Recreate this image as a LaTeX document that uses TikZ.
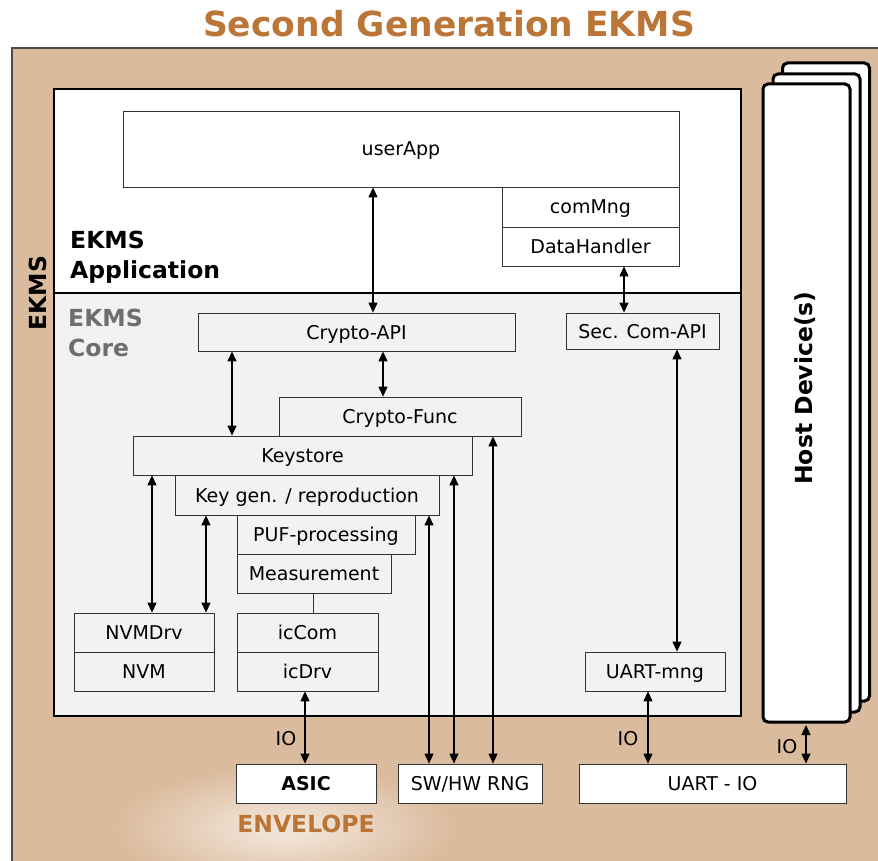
\documentclass[tikz,border=0pt]{standalone}
\usepackage{fontspec}
\setmainfont{DejaVu Sans}
\usetikzlibrary{arrows.meta}
\definecolor{tanc}{RGB}{219,187,157}
\definecolor{glowc}{RGB}{240,226,212}
\definecolor{copper}{RGB}{187,117,54}
\definecolor{corebg}{RGB}{242,242,240}
\definecolor{coregray}{RGB}{110,110,110}
\pgfdeclareradialshading{glow}{\pgfpoint{0bp}{0bp}}{color(0bp)=(glowc); color(4bp)=(glowc); color(25bp)=(tanc); color(50bp)=(tanc)}
\begin{document}
\begin{tikzpicture}[x=1pt,y=-1pt,
  box/.style={draw=black!80, line width=0.8pt, inner sep=0pt, text height=14pt, text depth=0pt, font=\fontsize{19}{21}\selectfont},
  cbox/.style={box, fill=corebg},
  wbox/.style={box, fill=white},
  dar/.style={{Triangle[length=10pt,width=9pt]}-{Triangle[length=10pt,width=9pt]}, line width=1.1pt},
  hostbox/.style={draw=black, line width=3pt, rounded corners=5pt, fill=white, minimum width=87pt, inner sep=0pt},
  lbl/.style={font=\fontsize{19}{21}\selectfont, inner sep=0pt, text height=14pt, text depth=0pt},
  big/.style={font=\fontsize{23.5}{30}\selectfont\bfseries, inner sep=0pt, align=left}
]
\useasboundingbox (0,0) rectangle (878,861);
\fill[white] (0,0) rectangle (878,861);
\begin{scope}
\clip (0,0) rectangle (878,861);
% outer envelope
\fill[tanc] (12,48) rectangle (900,900);
\shade[shading=glow] (285,828) ellipse (170 and 62);
\draw[draw=black!70, line width=2pt] (900,48) -- (12,48) -- (12,900);
\end{scope}

% title
\node[font=\fontsize{34.5}{40}\selectfont\bfseries, text=copper, inner sep=0pt] (title) at (449,24) {Second Generation EKMS};

% EKMS vertical label
\node[big, rotate=90] (ekms) at (38,293) {EKMS};

% application and core areas
\node[draw=black, line width=1.2pt, fill=white, minimum width=687pt, minimum height=204pt, inner sep=0pt] (app) at (397.5,191) {};
\node[draw=black, line width=1.2pt, fill=corebg, minimum width=687pt, minimum height=423pt, inner sep=0pt] (core) at (397.5,504.5) {};

\node[big, anchor=north west] (apptxt) at (70,231) {EKMS\\Application};
\node[big, anchor=north west, text=coregray] (coretxt) at (68,309) {EKMS\\Core};

% application boxes
\node[wbox, minimum width=556pt, minimum height=76pt] (userApp) at (401,149) {userApp};
\node[wbox, minimum width=177pt, minimum height=40pt] (comMng) at (590.5,207) {comMng};
\node[wbox, minimum width=177pt, minimum height=39pt] (dataH) at (590.5,246.5) {DataHandler};

% core boxes
\node[cbox, minimum width=317pt, minimum height=38pt] (cryptoAPI) at (356.5,332) {Crypto-API};
\node[cbox, minimum width=153pt, minimum height=36pt] (secAPI) at (642.5,331) {Sec. Com-API};
\node[cbox, minimum width=242pt, minimum height=39pt] (cryptoFunc) at (400,416.5) {Crypto-Func};
\node[cbox, minimum width=339pt, minimum height=39pt] (keystore) at (302.5,455.5) {Keystore};
\node[cbox, minimum width=264pt, minimum height=40pt] (keygen) at (307,495) {Key gen. / reproduction};
\node[cbox, minimum width=178pt, minimum height=39pt] (puf) at (326,534.5) {PUF-processing};
\node[cbox, minimum width=154pt, minimum height=39pt] (meas) at (314,573.5) {Measurement};
\node[cbox, minimum width=140pt, minimum height=39pt] (nvmdrv) at (144,632.5) {NVMDrv};
\node[cbox, minimum width=140pt, minimum height=39pt] (nvm) at (144,671.5) {NVM};
\node[cbox, minimum width=141pt, minimum height=39pt] (iccom) at (307.5,632.5) {icCom};
\node[cbox, minimum width=141pt, minimum height=39pt] (icdrv) at (307.5,671.5) {icDrv};
\node[cbox, minimum width=140pt, minimum height=39pt] (uartmng) at (655,671.5) {UART-mng};

% outside boxes
\node[wbox, minimum width=140pt, minimum height=39pt, font=\fontsize{19}{21}\selectfont\bfseries] (asic) at (306,783.5) {ASIC};
\node[wbox, minimum width=144pt, minimum height=39pt] (rng) at (470,783.5) {SW/HW RNG};
\node[wbox, minimum width=267pt, minimum height=39pt] (uartio) at (712.5,783.5) {UART - IO};
\node[font=\fontsize{23.5}{28}\selectfont\bfseries, text=copper, inner sep=0pt] (envelope) at (306,824) {ENVELOPE};

% host devices
\node[hostbox, minimum height=638pt] (host3) at (826,382) {};
\node[hostbox, minimum height=638pt] (host2) at (816.5,393) {};
\node[hostbox, minimum height=638pt] (host) at (806.5,403) {};
\node[big, rotate=90] (hosttxt) at (805,388) {Host Device(s)};

% connectors
\draw[line width=0.9pt, black!80] (meas.south) ++(-1,0) coordinate (mb) -- (mb |- iccom.north);
\draw[dar] (373,0 |- userApp.south) -- (373,0 |- cryptoAPI.north);
\draw[dar] (624,0 |- dataH.south) -- (624,0 |- secAPI.north);
\draw[dar] (232,0 |- cryptoAPI.south) -- (232,0 |- keystore.north);
\draw[dar] (383,0 |- cryptoAPI.south) -- (383,0 |- cryptoFunc.north);
\draw[dar] (677,0 |- secAPI.south) -- (677,0 |- uartmng.north);
\draw[dar] (152,0 |- keystore.south) -- (152,0 |- nvmdrv.north);
\draw[dar] (206,0 |- keygen.south) -- (206,0 |- nvmdrv.north);
\draw[dar] (429,0 |- keygen.south) -- (429,0 |- rng.north);
\draw[dar] (454,0 |- keystore.south) -- (454,0 |- rng.north);
\draw[dar] (493,0 |- cryptoFunc.south) -- (493,0 |- rng.north);
\draw[dar] (305,0 |- icdrv.south) -- (305,0 |- asic.north);
\draw[dar] (648,0 |- uartmng.south) -- (648,0 |- uartio.north);
\draw[dar] (806,0 |- host.south) ++(0,1.5) -- (806,0 |- uartio.north);

\node[lbl] (io1) at (286,738) {IO};
\node[lbl] (io2) at (628,738) {IO};
\node[lbl] (io3) at (787,746) {IO};
\end{tikzpicture}
\end{document}
